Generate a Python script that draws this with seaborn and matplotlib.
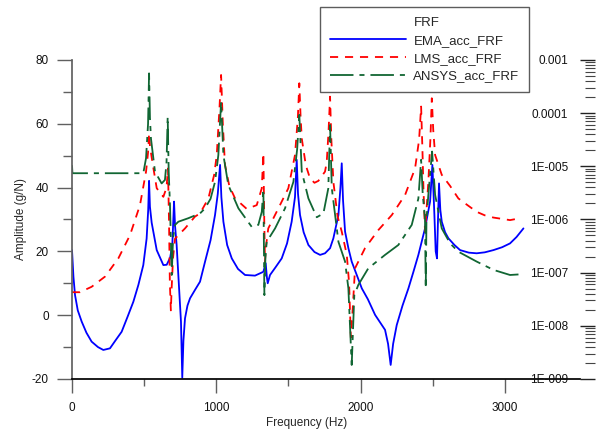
import matplotlib
matplotlib.use("Agg")
import matplotlib.pyplot as plt
import matplotlib.ticker as mticker
from matplotlib.lines import Line2D
import seaborn as sns
import pandas as pd

# EMA (medido)
ema_freq = [0, 10, 21, 40, 67, 100, 136, 180, 217, 263, 300, 344, 385, 425, 460, 494, 517, 528, 534, 540,
            552, 587, 633, 656, 680, 695, 702, 707, 714, 725, 740, 755, 764, 772, 783, 800, 818, 852, 887,
            922, 960, 991, 1010, 1026, 1035, 1049, 1075, 1107, 1150, 1199, 1268, 1326, 1342, 1350, 1356,
            1372, 1410, 1453, 1490, 1522, 1545, 1557, 1566, 1580, 1605, 1638, 1680, 1719, 1753, 1788,
            1811, 1846, 1860, 1869, 1878, 1892, 1915, 1938, 2008, 2050, 2100, 2169, 2190, 2208, 2225,
            2250, 2290, 2331, 2365, 2400, 2446, 2481, 2497, 2511, 2520, 2529, 2536, 2543, 2552, 2562,
            2585, 2608, 2650, 2689, 2750, 2804, 2860, 2920, 2980, 3035, 3080, 3128]
ema_amp = [20.4, 12, 6.3, 1.5, -2, -5.5, -8.3, -10, -10.9, -10.4, -8, -5.2, -0.5, 4.2, 9.5, 15.7, 24, 33, 42.1, 34,
           29, 20.4, 15.7, 15.8, 18, 22, 30, 35.6, 28, 22, 10, -2, -19.6, -8, -1, 3, 5.3, 7.9, 10.5,
           16.8, 23.5, 31.4, 38, 47.1, 37, 29.3, 22, 17.8, 14.5, 12.6, 12.4, 13.6, 16.3, 12, 10,
           12.6, 15, 17.8, 22.5, 29.3, 37, 48.7, 38, 31.4, 26, 22, 19.8, 18.9, 19.4, 21,
           24.1, 31.4, 40, 47.6, 36, 26.2, 21, 16.8, 8.4, 5, 0.1, -4.6, -9, -15.6, -9,
           -3.1, 3, 8.4, 13.5, 18.9, 27.2, 35.6, 47.1, 31.4, 20, 17.8, 30, 41.3, 33, 29.3,
           26, 24.1, 22, 20.4, 19.6, 19.4, 19.7, 20.4, 21.3, 22.5, 24.5, 27.2]

# LMS
lms_freq = [0, 55, 136, 229, 321, 402, 471, 513, 527, 534, 540, 557, 587, 633, 655, 665, 672, 678, 685, 690,
            700, 714, 783, 852, 887, 945, 985, 1003, 1022, 1033, 1045, 1060, 1090, 1130, 1211, 1280, 1315,
            1326, 1332, 1337, 1345, 1360, 1430, 1499, 1545, 1565, 1575, 1584, 1592, 1620, 1649, 1680,
            1707, 1753, 1765, 1778, 1788, 1797, 1811, 1840, 1869, 1904, 1920, 1932, 1945, 1961, 2030,
            2123, 2216, 2308, 2377, 2405, 2419, 2428, 2435, 2446, 2455, 2469, 2483, 2493, 2503, 2516,
            2562, 2620, 2677, 2740, 2804, 2860, 2920, 3035, 3105]
lms_amp = [7.2, 7.2, 8.9, 12.1, 17.8, 25.1, 34.5, 45, 51, 57, 53, 48, 39.8, 37.1, 40, 46, 30, 10, 1.5, 8,
           18, 24, 27.2, 30.9, 31.9, 36.6, 44, 50.2, 65, 75.3, 60, 47.1, 40.5, 36.6, 33.3, 34.5, 39.8,
           50.8, 30, 16.8, 22, 27.2, 33.5, 39.8, 50.2, 62, 72.7, 62, 55.4, 47, 42.9, 41.5,
           42.1, 45, 48, 58, 68.5, 55, 41.8, 31, 26.2, 18.9, 10, -7, 2, 14.7, 21,
           26.7, 31.4, 37.7, 46, 55, 65.4, 52, 39.8, 26.2, 32, 41.8, 55, 68, 58, 50.2,
           44, 40.5, 36.6, 34.5, 32.4, 31.3, 30.6, 29.8, 30.4]

# ANSYS
ansys_freq = [0, 3, 494, 513, 527, 534, 540, 547, 575, 621, 644, 655, 663, 670, 679, 691, 700, 714, 737, 806,
              887, 922, 960, 991, 1014, 1033, 1049, 1083, 1153, 1245, 1291, 1315, 1326, 1333, 1340, 1349,
              1407, 1476, 1534, 1560, 1575, 1592, 1638, 1696, 1742, 1776, 1788, 1800, 1846, 1892, 1915,
              1938, 1956, 1984, 2053, 2169, 2261, 2354, 2400, 2419, 2430, 2446, 2451, 2456, 2469, 2495,
              2516, 2562, 2620, 2677, 2804, 2920, 3035, 3105]
ansys_amp = [47, 44.5, 44.5, 49.2, 60, 75.8, 62, 55.4, 45, 41.3, 42.4, 48, 62.2, 45, 34.5, 12.6, 24, 28.3, 29.3, 30.4,
             31.9, 33.5, 36.5, 41.8, 50.2, 66.9, 50.2, 40.8, 33.5, 27.7, 28.3, 32.4, 39.5, 6.3, 18, 23,
             27.2, 33.5, 41.8, 52, 62.8, 45, 36.6, 30.7, 31.9, 39.8, 59.6, 39.8, 23, 16.8, 8.4,
             -15.6, 6.3, 9.5, 14.7, 18.9, 22, 28.3, 36.6, 48.7, 38, 30, 8.4, 30, 37.7, 51.3,
             37.7, 27.2, 22.5, 19.9, 16.8, 14.2, 12.6, 12.8]

right_ticks = [1e-9, 1e-8, 1e-7, 1e-6, 1e-5, 1e-4, 1e-3]
right_labels = ["1E-009", "1E-008", "1E-007", "1E-006", "1E-005", "0.0001", "0.001"]

sns.set_theme(style="ticks")
plt.rcParams["font.family"] = ["Liberation Sans", "DejaVu Sans"]
plt.rcParams["axes.unicode_minus"] = False

fig = plt.figure(figsize=(6.01, 4.29), dpi=100)
ax = fig.add_axes([0.1198, 0.1166, 0.8453, 0.7436])

ema = pd.DataFrame({"f": ema_freq, "a": ema_amp})
lms = pd.DataFrame({"f": lms_freq, "a": lms_amp})
ansys = pd.DataFrame({"f": ansys_freq, "a": ansys_amp})

sns.lineplot(data=ema, x="f", y="a", ax=ax, color="#0000ff", lw=1.3, sort=False, estimator=None)
sns.lineplot(data=lms, x="f", y="a", ax=ax, color="#ff0000", lw=1.3, sort=False, estimator=None,
             linestyle=(0, (4.5, 3.8)))
sns.lineplot(data=ansys, x="f", y="a", ax=ax, color="#116633", lw=1.3, sort=False, estimator=None,
             linestyle=(0, (13, 3.3, 2.8, 3.3)))

ax.set_xlim(0, 3520)
ax.set_ylim(-20, 80)
ax.set_xticks([0, 1000, 2000, 3000])
ax.set_xticks([500, 1500, 2500], minor=True)
ax.set_yticks([-20, 0, 20, 40, 60, 80])
ax.set_yticks([-10, 10, 30, 50, 70], minor=True)
ax.tick_params(axis="both", which="major", labelsize=8.5, color="#606060", labelcolor="#111111", width=1)
ax.tick_params(axis="y", which="major", length=10.8, pad=6)
ax.tick_params(axis="y", which="minor", length=6.5, color="#606060", width=1)
ax.tick_params(axis="x", which="major", length=10, pad=6.5)
ax.tick_params(axis="x", which="minor", length=5, color="#606060", width=1)
for s in ["top", "right"]:
    ax.spines[s].set_visible(False)
ax.spines["left"].set_color("#606060")
ax.spines["bottom"].set_color("black")
ax.set_ylabel("Amplitude (g/N)", fontsize=8.5, labelpad=3)
ax.set_xlabel("Frequency (Hz)", fontsize=8.5)
ax.xaxis.set_label_coords(0.4626, -0.118)

# eje derecho logaritmico
ax2 = ax.twinx()
ax2.set_yscale("log")
ax2.set_ylim(1e-9, 1e-3)
ax2.yaxis.tick_left()
ax2.spines["left"].set_position(("axes", 1.0295))
for s in ["left", "right", "top", "bottom"]:
    ax2.spines[s].set_visible(False)
ax2.set_yticks(right_ticks)
ax2.yaxis.set_major_formatter(mticker.FixedFormatter(right_labels))
ax2.yaxis.set_minor_locator(mticker.LogLocator(base=10, subs=range(2, 10), numticks=20))
ax2.yaxis.set_minor_formatter(mticker.NullFormatter())
ax2.tick_params(axis="y", which="major", direction="out", length=10.8, pad=8.4, labelsize=8.5,
                color="#222222", labelcolor="#111111", width=1)
ax2.tick_params(axis="y", which="minor", direction="out", length=7, color="#444444", width=0.8)

handles = [Line2D([], [], color="none"),
           Line2D([], [], color="#0000ff", lw=1.3),
           Line2D([], [], color="#ff0000", lw=1.3, linestyle=(0, (4.5, 3.8))),
           Line2D([], [], color="#116633", lw=1.3, linestyle=(0, (13, 3.3, 2.8, 3.3)))]
labels = ["FRF", "EMA_acc_FRF", "LMS_acc_FRF", "ANSYS_acc_FRF"]
leg = fig.legend(handles, labels, loc="upper left", bbox_to_anchor=(0.532, 0.9837), fontsize=9.5,
                 handlelength=5.8, handletextpad=0.55, labelspacing=0.42, borderpad=0.75,
                 borderaxespad=0, fancybox=False, frameon=True)
leg.get_frame().set_edgecolor("#333333")
leg.get_frame().set_linewidth(1)

plt.savefig("out.png", dpi=100)
